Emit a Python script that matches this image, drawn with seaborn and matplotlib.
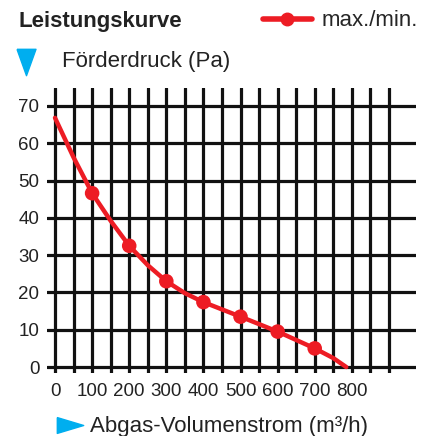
import numpy as np
import pandas as pd
import matplotlib
matplotlib.use("Agg")
import matplotlib.pyplot as plt
import seaborn as sns
from matplotlib.lines import Line2D

# curve
curve_x = [0, 50, 100, 150, 200, 250, 300, 350, 400, 500, 600, 700, 750, 785]
curve_y = [66.8, 56.2, 46.6, 39.2, 32.5, 27.3, 23.0, 19.8, 17.4, 13.5, 9.5, 5.0, 2.4, 0.0]

# measured points (markers)
point_x = [100, 200, 300, 400, 500, 600, 700]
point_y = [46.6, 32.5, 23.0, 17.4, 13.5, 9.5, 5.0]

x_ticks = [0, 100, 200, 300, 400, 500, 600, 700, 800]
y_ticks = [0, 10, 20, 30, 40, 50, 60, 70]

RED = "#ED1C24"
BLUE = "#00AEEF"
FONT = ["Liberation Sans", "DejaVu Sans"]

sns.set_style("white")
plt.rcParams["font.family"] = FONT

fig = plt.figure(figsize=(4.33, 4.36), dpi=100)
ax = fig.add_axes([47 / 433, 1 - 373 / 436, (416 - 47) / 433, (373 - 88) / 436])

# grid
for xv in np.arange(0, 901, 50):
    ax.axvline(xv, color="#111111", lw=2.3, zorder=1)
for yv in y_ticks:
    ax.axhline(yv, color="#111111", lw=2.3, zorder=1)

curve = pd.DataFrame({"x": curve_x, "y": curve_y})
pts = pd.DataFrame({"x": point_x, "y": point_y})
sns.lineplot(data=curve, x="x", y="y", ax=ax, color=RED, lw=3.2, zorder=3)
sns.scatterplot(data=pts, x="x", y="y", ax=ax, color=RED, s=110, edgecolor="none", zorder=4)

ax.set_xlim(-21.6, 973)
ax.set_ylim(-1.6, 74.8)
ax.set_xticks(x_ticks)
ax.set_yticks(y_ticks)
ax.set_xticklabels([str(v) for v in x_ticks], fontsize=13.5, color="#222222")
ax.set_yticklabels([str(v) for v in y_ticks], fontsize=13.5, color="#222222")
ax.tick_params(length=0)
ax.tick_params(axis="x", pad=7)
ax.tick_params(axis="y", pad=5.5)
ax.set_xlabel("")
ax.set_ylabel("")
for s in ax.spines.values():
    s.set_visible(False)

# header texts
fig.text(19 / 433, 1 - 22 / 436, "Leistungskurve", fontsize=16, fontweight="bold",
         color="#222222", va="center", ha="left")
fig.text(62 / 433, 1 - 62 / 436, "Förderdruck (Pa)", fontsize=16,
         color="#222222", va="center", ha="left")
fig.text(90 / 433, 1 - 426 / 436, "Abgas-Volumenstrom (m³/h)", fontsize=16,
         color="#222222", va="center", ha="left")

# elongated triangles
tri_down = [(-0.36, 0.5), (0.36, 0.5), (0, -0.5), (-0.36, 0.5)]
tri_right = [(-0.5, 0.3), (-0.5, -0.3), (0.5, 0), (-0.5, 0.3)]
fig.add_artist(Line2D([26 / 433], [1 - 62.5 / 436], marker=tri_down, markersize=19,
                      color=BLUE, transform=fig.transFigure, lw=0))
fig.add_artist(Line2D([69.5 / 433], [1 - 424.5 / 436], marker=tri_right, markersize=19,
                      color=BLUE, transform=fig.transFigure, lw=0))

# legend
handle = Line2D([], [], color=RED, lw=4, marker="o", markersize=9)
fig.legend([handle], ["max./min."], loc="center left",
           bbox_to_anchor=(263 / 433, 1 - 21 / 436), frameon=False,
           fontsize=16, handlelength=2.2, handletextpad=0.45, borderpad=0,
           borderaxespad=0)

fig.savefig("out.png", dpi=100)
